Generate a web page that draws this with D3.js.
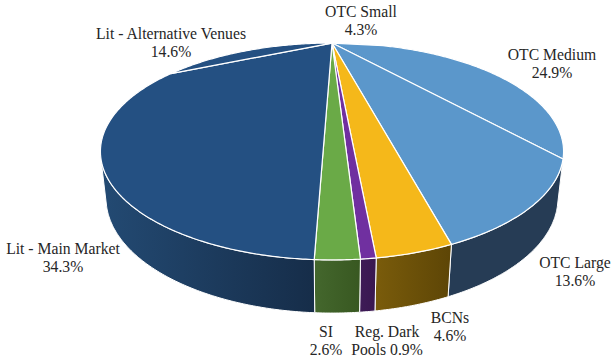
<!DOCTYPE html>
<html>
<head>
<meta charset="utf-8">
<script src="https://cdn.jsdelivr.net/npm/d3@7"></script>
<style>
  html, body { margin: 0; padding: 0; background: #fff; }
  svg { display: block; }
  .lbl { font-family: "Liberation Serif", "DejaVu Serif", "Times New Roman", serif; font-size: 15.7px; }
</style>
</head>
<body>
<svg id="chart" width="612" height="360"></svg>
<script>
// Share of trading volume by venue type (%), clockwise from 12 o'clock
const venues = ["OTC Small", "OTC Medium", "OTC Large", "BCNs", "Reg. Dark Pools", "SI", "Lit - Main Market", "Lit - Alternative Venues"];
const shares = [4.3, 24.9, 13.6, 4.6, 0.9, 2.6, 34.3, 14.6];
// Label text: first line, and a prefix for the line carrying the percentage
const labelHead = ["OTC Small", "OTC Medium", "OTC Large", "BCNs", "Reg. Dark", "SI", "Lit - Main Market", "Lit - Alternative Venues"];
const labelTail = ["", "", "", "", "Pools ", "", "", ""];

// Face colours per venue: top face, and the side wall from its left to right end
const topColor  = ["#5b97cb", "#5b97cb", "#5b97cb", "#f5b81a", "#7030a0", "#6aaa47", "#245082", "#245082"];
const sideLeft  = ["#263c55", "#263c55", "#263c55", "#7a5c0b", "#3e1b57", "#44672d", "#234a73", "#234a73"];
const sideRight = ["#263c55", "#263c55", "#263c55", "#5d4506", "#391750", "#385821", "#162d49", "#162d49"];

// Label anchors (centre x, first baseline y)
const labelPos = [[361, 17], [552, 60], [575, 268], [450, 323], [387, 337], [326, 337], [63, 254], [171, 39]];

const svg = d3.select("#chart");
const defs = svg.append("defs");

// Perspective view of a flat cylinder seen from above
const sinP = 0.459, cosP = Math.sqrt(1 - sinP * sinP);
const D = 4.485, F = 1018, H = 0.233, cx = 332, cy = 130;
function proj(t, z) {
  const X = Math.sin(t), Y = Math.cos(t);
  const depth = D + Y * cosP - z * sinP;
  return [cx + F * X / depth, cy - F * (Y * sinP + z * cosP) / depth];
}
// Part of the wall that faces the viewer
const dH = D * cosP;
const vis0 = Math.acos(-1 / dH), vis1 = 2 * Math.PI - vis0;

const pie = d3.pie().sort(null).value(d => d).startAngle(0).endAngle(2 * Math.PI);
const arcs = pie(shares);

const line = d3.line();
function arcPts(a0, a1, z) {
  const n = Math.max(2, Math.ceil((a1 - a0) / 0.01));
  return d3.range(n + 1).map(i => proj(a0 + (a1 - a0) * i / n, z));
}

// Side walls
const sides = svg.append("g");
arcs.forEach((a, i) => {
  const s = Math.max(a.startAngle, vis0), e = Math.min(a.endAngle, vis1);
  if (e <= s) return;
  const topEdge = arcPts(s, e, 0);
  const botEdge = arcPts(s, e, -H).reverse();
  const pts = topEdge.concat(botEdge);
  const xs = pts.map(p => p[0]);
  const gid = "side" + i;
  const g = defs.append("linearGradient").attr("id", gid)
    .attr("gradientUnits", "userSpaceOnUse")
    .attr("x1", d3.min(xs)).attr("x2", d3.max(xs)).attr("y1", 0).attr("y2", 0);
  g.append("stop").attr("offset", 0).attr("stop-color", sideLeft[i]);
  g.append("stop").attr("offset", 1).attr("stop-color", sideRight[i]);
  sides.append("path")
    .attr("d", line(pts) + "Z")
    .attr("fill", `url(#${gid})`)
    .attr("stroke", "#fff")
    .attr("stroke-width", 1)
    .attr("stroke-linejoin", "round");
});

// Top faces
const tops = svg.append("g");
arcs.forEach((a, i) => {
  const pts = [proj(0, 0)].concat(arcPts(a.startAngle, a.endAngle, 0));
  tops.append("path")
    .attr("d", line(pts) + "Z")
    .attr("fill", topColor[i])
    .attr("stroke", "#fff")
    .attr("stroke-width", 1.2)
    .attr("stroke-linejoin", "round");
});

// Data labels
const fmt = d3.format(".1f");
const labels = svg.append("g")
  .attr("class", "lbl")
  .attr("fill", "#262626")
  .attr("text-anchor", "middle");
arcs.forEach((a, i) => {
  const [x, y] = labelPos[i];
  const t = labels.append("text").attr("x", x).attr("y", y);
  t.append("tspan").attr("x", x).text(labelHead[i]);
  t.append("tspan").attr("x", x).attr("dy", 18).text(labelTail[i] + fmt(a.data) + "%");
});
</script>
</body>
</html>
